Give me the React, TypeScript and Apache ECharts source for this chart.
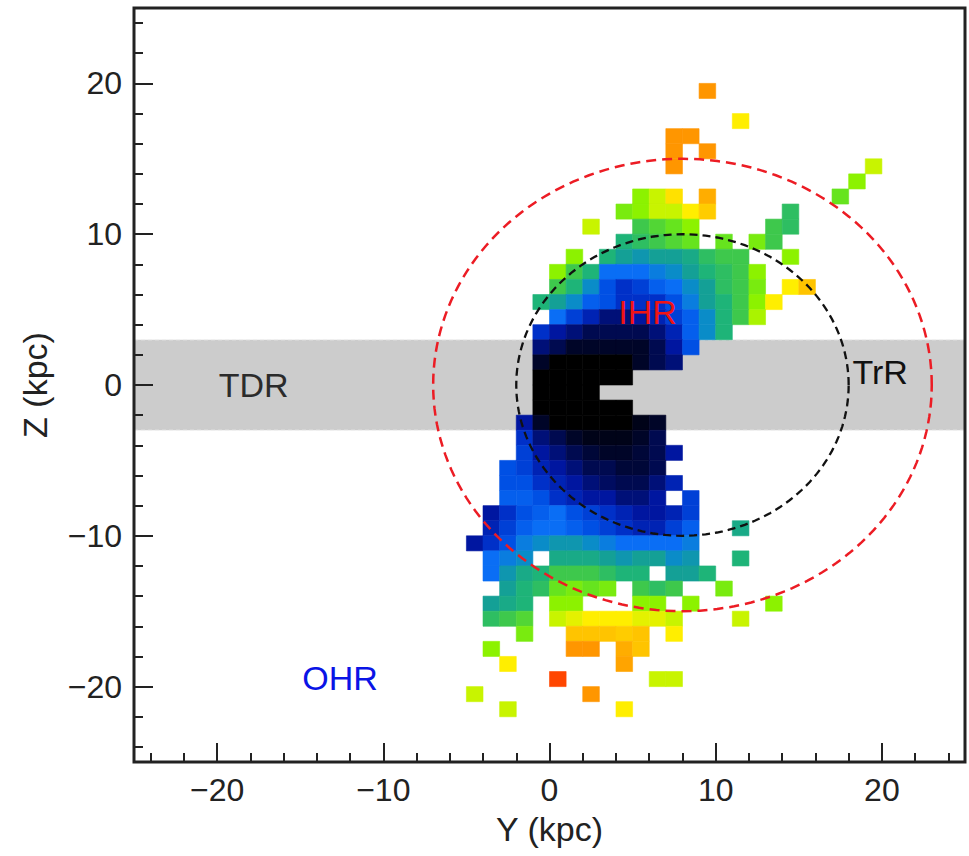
import React, { useEffect, useRef } from "react";
import * as echarts from "echarts";

const _ = null;

// ---- axes ----
const AXIS_MIN = -25;
const AXIS_MAX = 25;
const MAJOR_TICKS = [-20, -10, 0, 10, 20];
const MINOR_TICKS = [-24, -22, -18, -16, -14, -12, -8, -6, -4, -2, 2, 4, 6, 8, 12, 14, 16, 18, 22, 24];

// ---- colour scale for the cell level (0 = densest / black) ----
const LEVEL_COLORS = [
  "#000000", "#000a50", "#0016a0", "#0030c8", "#0050e4", "#0a6ef5", "#0a8cc8",
  "#14a096", "#1eb478", "#3ec84c", "#66e41e", "#8cf200", "#c8f400", "#ffee00",
  "#ffc400", "#ff9600", "#ff4600",
];

// ---- cells: [z of lower edge, y of first cell's left edge, levels...] (1 kpc bins) ----
type Row = [number, number, (number | null)[]];

const northOuterHalo: Row[] = [
  [19, 9, [15]],
  [17, 11, [13]],
  [16, 7, [15, 15]],
  [15, 7, [15, _, 15]],
  [14, 7, [15]],
  [14, 19, [12]],
  [13, 18, [11]],
  [12, 5, [11, 12, 13.3, _, 14.5]],
  [12, 17, [10]],
  [11, 4, [10.5, 11, 12, 12, 13, 13.8]],
  [11, 14, [8.5]],
  [10, 2, [12]],
  [10, 5, [9, 9.5, 10, 11]],
  [10, 13, [9, 8.5]],
  [9, 4, [8, 8.5, 9, 9.5, 10, _, 10, _, 10.5, 9]],
];

const northInnerHalo: Row[] = [
  [8, 1, [11]],
  [8, 3, [8, 7, 6.5, 7, 7, 7.5, 8.5, 9, 9]],
  [8, 14, [11]],
  [7, 0, [11, 9, 8, 5, 5, 5, 5.5, 6, 7, 8, 8.5, 9, 11]],
  [6, 0, [9, 8, 6, 4, 3, 3.5, 4.5, 5, 6, 7, 8.5, 9, 10.5]],
  [6, 14, [13, 14]],
  [5, -1, [8, 7, 6, 4.5, 4, 3, 3, 3, 4, 5.5, 7, 8, 9, 11, 13]],
  [4, 0, [5, 3.5, 2.5, 1.5, 1.5, 2, 2.5, 3.5, 4.5, 6, 8, 9, 11.5]],
  [3, -1, [3, 2, 1.5, 1, 1, 1, 1, 1.5, 2.5, 4.5, 6, 8]],
];

const diskCells: Row[] = [
  [2, -1, [1.5, 1, 0.5, 0.5, 0.5, 0.5, 0.5, 1, 2, 4]],
  [1, -1, [0.5, 0, 0, 0, 0, 0, 0.5, 1, 1.5]],
  [0, -1, [0, 0, 0, 0, 0, 0]],
  [-1, -1, [0, 0, 0, 0]],
  [-2, -1, [0, 0, 0, 0, 0, 0]],
  [-3, -2, [2, 0.5, 0, 0, 0, 0, 0, 0.3, 0.5]],
];

const southInnerHalo: Row[] = [
  [-4, -2, [3, 1.5, 1, 0.5, 0.3, 0.3, 0.3, 0.5, 1]],
  [-5, -2, [3.5, 2, 1.5, 1, 0.7, 0.5, 0.5, 0.7, 1, 2]],
  [-6, -3, [4, 3.5, 2.5, 2, 1.5, 1, 1, 0.7, 0.7, 1]],
  [-7, -3, [4, 4, 3, 2.5, 2, 1.5, 1.2, 1, 1, 1.5, 2.5]],
  [-8, -3, [4.5, 4.5, 4, 3, 2.5, 2, 2, 1.5, 1.5, 2, _, 3.5]],
  [-9, -4, [2, 3, 4, 4.5, 5, 4, 3.5, 3, 2.5, 2, 2, 2.5, 3.5]],
  [-10, -4, [2.5, 3.5, 4.5, 5, 5, 4.5, 4, 3.5, 3, 2.5, 2.5, 3.5, 4.5, _, _, 7.5]],
  [-11, -5, [2, 3, 4, 5.5, 6, 6.5, 6.5, 6, 5.5, 5, 5, 5, 5, 5.5]],
  [-12, -4, [5, 5.5, 6, _, 7.5, 7.5, 7.5, 7, 6.5, 7, 7, 6, 6.5, _, _, 8]],
];

const southOuterHalo: Row[] = [
  [-13, -4, [5, 6.5, 7.5, 8, 9, 9, 9, 8.5, 8, 8, _, 7, 7, 8]],
  [-14, -3, [7, 8, 8.5, 10, 10.5, 10, 10.5, _, 9, 8.5, 9, _, _, 10.5]],
  [-15, -4, [7, 7.5, 8, _, 11, 11, _, _, _, 11, 11, _, 11]],
  [-15, 13, [11]],
  [-16, -4, [8.5, 9, 9.5, _, 12, 12.5, 13, 13, 13, 12.5, 12.5, 12]],
  [-16, 11, [12]],
  [-17, -2, [10.5]],
  [-17, 1, [14, 14, 14, 13.8, 14, _, 13]],
  [-18, -4, [11]],
  [-18, 1, [15, 15, _, 14.5, 14]],
  [-19, -3, [13]],
  [-19, 4, [14.7]],
  [-20, 0, [16]],
  [-20, 6, [12, 12]],
  [-21, -5, [12]],
  [-21, 2, [15]],
  [-22, -3, [12]],
  [-22, 4, [13]],
];

// ---- region annotations ----
const REGION_LABELS = [
  { name: "TDR", y: -17.8, z: 0, color: "#2b2b2b" },
  { name: "IHR", y: 5.9, z: 4.85, color: "#f01414" },
  { name: "TrR", y: 19.9, z: 0.85, color: "#111111" },
  { name: "OHR", y: -12.6, z: -19.45, color: "#0a14e6" },
];

// thin disc band |Z| < 3 kpc
const DISK_BAND = [[AXIS_MIN, -3, AXIS_MAX, 3]];

// boundary circles centred on (Y, Z) = (8, 0)
const CIRCLE_CENTER = [8, 0];
const OUTER_RADIUS = 15;
const INNER_RADIUS = 10;

const FONT = '"Liberation Sans", Arial, Helvetica, sans-serif';

function circlePoints(r: number) {
  const pts: number[][] = [];
  for (let a = 0; a <= 360; a += 2) {
    const t = (a * Math.PI) / 180;
    pts.push([CIRCLE_CENTER[0] + r * Math.cos(t), CIRCLE_CENTER[1] + r * Math.sin(t)]);
  }
  return pts;
}

function buildCells() {
  const out: number[][] = [];
  const groups = [northOuterHalo, northInnerHalo, diskCells, southInnerHalo, southOuterHalo];
  for (const g of groups) {
    for (const [z, y0, vals] of g) {
      vals.forEach((v, k) => {
        if (v !== null) out.push([y0 + k, z, v]);
      });
    }
  }
  return out;
}

const fmt = (v: number) => (v < 0 ? "\u2212" + Math.abs(v) : String(v));

const GRID = { left: 134, top: 8, width: 831, height: 754 };

export default function App() {
  const ref = useRef<HTMLDivElement>(null);

  useEffect(() => {
    if (!ref.current) return;
    const chart = echarts.init(ref.current, undefined, { renderer: "svg" });
    const cells = buildCells();

    const tickStyle = { color: "#222", width: 2 };
    const labelStyle = { fontSize: 32, color: "#222", fontFamily: FONT };
    const hiddenLine = { show: false, onZero: false };

    const option: any = {
      animation: false,
      backgroundColor: "#ffffff",
      textStyle: { fontFamily: FONT },
      grid: [
        { ...GRID, show: true, borderColor: "#222", borderWidth: 3, backgroundColor: "transparent", z: 6 },
        { ...GRID, show: false },
      ],
      xAxis: [
        {
          gridIndex: 0, type: "value", position: "bottom", min: AXIS_MIN, max: AXIS_MAX, splitNumber: 5, z: 6,
          axisLine: hiddenLine,
          axisTick: { show: true, inside: true, length: 19, lineStyle: tickStyle, customValues: MAJOR_TICKS },
          axisLabel: { ...labelStyle, margin: 12, formatter: fmt, customValues: MAJOR_TICKS },
          splitLine: { show: false },
          name: "Y (kpc)", nameLocation: "middle", nameGap: 50,
          nameTextStyle: { fontSize: 34, color: "#222", fontFamily: FONT },
        },
        {
          gridIndex: 1, type: "value", position: "bottom", min: AXIS_MIN, max: AXIS_MAX, splitNumber: 25, z: 6,
          axisLine: hiddenLine,
          axisTick: { show: true, inside: true, length: 9, lineStyle: tickStyle, customValues: MINOR_TICKS },
          axisLabel: { show: false },
          splitLine: { show: false },
        },
      ],
      yAxis: [
        {
          gridIndex: 0, type: "value", position: "left", min: AXIS_MIN, max: AXIS_MAX, splitNumber: 5, z: 6,
          axisLine: hiddenLine,
          axisTick: { show: true, inside: true, length: 19, lineStyle: tickStyle, customValues: MAJOR_TICKS },
          axisLabel: { ...labelStyle, margin: 12, formatter: fmt, customValues: MAJOR_TICKS },
          splitLine: { show: false },
          name: "Z (kpc)", nameLocation: "middle", nameGap: 82,
          nameTextStyle: { fontSize: 34, color: "#222", fontFamily: FONT },
        },
        {
          gridIndex: 1, type: "value", position: "left", min: AXIS_MIN, max: AXIS_MAX, splitNumber: 25, z: 6,
          axisLine: hiddenLine,
          axisTick: { show: true, inside: true, length: 9, lineStyle: tickStyle, customValues: MINOR_TICKS },
          axisLabel: { show: false },
          splitLine: { show: false },
        },
      ],
      visualMap: {
        type: "continuous", show: false, seriesIndex: 1, dimension: 2,
        min: 0, max: LEVEL_COLORS.length - 1, inRange: { color: LEVEL_COLORS },
      },
      series: [
        {
          type: "custom", name: "disk", xAxisIndex: 0, yAxisIndex: 0, z: 1, silent: true,
          data: DISK_BAND,
          renderItem: (params: any, api: any) => {
            const p0 = api.coord([api.value(0), api.value(3)]);
            const p1 = api.coord([api.value(2), api.value(1)]);
            return {
              type: "group",
              children: [
                { type: "rect", shape: { x: p0[0], y: p0[1], width: p1[0] - p0[0], height: p1[1] - p0[1] },
                  style: { fill: "#cccccc" } },
                { type: "line", shape: { x1: p0[0], y1: p0[1], x2: p1[0], y2: p0[1] },
                  style: { stroke: "#eeeeee", lineWidth: 1, lineDash: [4, 3] } },
                { type: "line", shape: { x1: p0[0], y1: p1[1], x2: p1[0], y2: p1[1] },
                  style: { stroke: "#eeeeee", lineWidth: 1, lineDash: [4, 3] } },
              ],
            };
          },
        },
        {
          type: "custom", name: "cells", xAxisIndex: 0, yAxisIndex: 0, z: 2, silent: true,
          data: cells,
          renderItem: (params: any, api: any) => {
            const y = api.value(0);
            const z = api.value(1);
            const p0 = api.coord([y, z + 1]);
            const p1 = api.coord([y + 1, z]);
            const c = api.visual("color");
            return {
              type: "rect",
              shape: { x: p0[0], y: p0[1], width: p1[0] - p0[0], height: p1[1] - p0[1] },
              style: { fill: c, stroke: c, lineWidth: 0.6 },
            };
          },
        },
        {
          type: "line", name: "outer", xAxisIndex: 0, yAxisIndex: 0, z: 3, silent: true,
          data: circlePoints(OUTER_RADIUS), symbol: "none", smooth: false,
          lineStyle: { color: "#ec1c24", width: 2.5, type: [10, 6] },
        },
        {
          type: "line", name: "inner", xAxisIndex: 0, yAxisIndex: 0, z: 3, silent: true,
          data: circlePoints(INNER_RADIUS), symbol: "none", smooth: false,
          lineStyle: { color: "#111111", width: 2.3, type: [8, 5] },
        },
        {
          type: "custom", name: "labels", xAxisIndex: 0, yAxisIndex: 0, z: 4, silent: true,
          data: REGION_LABELS.map((l) => [l.y, l.z]),
          renderItem: (params: any, api: any) => {
            const l = REGION_LABELS[params.dataIndex];
            const p = api.coord([api.value(0), api.value(1)]);
            return {
              type: "text",
              style: {
                text: l.name, x: p[0], y: p[1], fill: l.color,
                fontSize: 34, fontFamily: FONT, align: "center", verticalAlign: "middle",
              },
            };
          },
        },
      ],
    };
    chart.setOption(option);
    return () => chart.dispose();
  }, []);

  return <div ref={ref} style={{ position: "fixed", left: 0, top: 0, width: 969, height: 856 }} />;
}
